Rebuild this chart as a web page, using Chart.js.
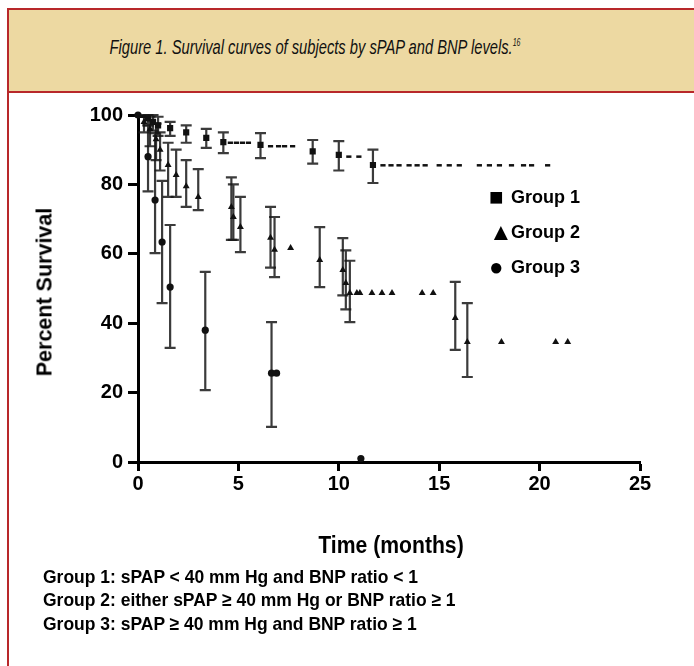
<!DOCTYPE html>
<html lang="en">
<head>
<meta charset="UTF-8" />
<title>Survival curves by sPAP and BNP levels</title>
<script src="https://cdn.jsdelivr.net/npm/chart.js"></script>
<style>
  body {
    margin: 0;
    width: 694px;
    height: 666px;
    overflow: hidden;
    position: relative;
    background: #fff;
    font-family: "Liberation Sans", Arial, sans-serif;
  }
  #frame {
    position: absolute;
    left: 7px;
    top: 8px;
    width: 720px;
    height: 700px;
    border-left: 2px solid #b8282a;
    border-top: 2px solid #b8282a;
  }
  #head {
    position: absolute;
    left: 9px;
    top: 10px;
    width: 720px;
    height: 81px;
    background: #edd9a2;
    border-bottom: 2px solid #b8282a;
  }
  #title {
    position: absolute;
    left: 315px;
    top: 47px;
    white-space: nowrap;
    font-style: italic;
    font-size: 21px;
    color: #111;
    transform: translate(-50%, -50%) scaleX(0.7);
  }
  #title sup { font-size: 10px; }
  canvas { position: absolute; left: 0; top: 0; }
  .lbl {
    position: absolute;
    font-weight: bold;
    color: #000;
    white-space: nowrap;
  }
  #ytitle {
    left: 45px;
    top: 292px;
    font-size: 21.5px;
    transform: translate(-50%, -50%) rotate(-90deg);
  }
  #xtitle {
    left: 391px;
    top: 545px;
    font-size: 23px;
    transform: translate(-50%, -50%) scaleX(0.92);
  }
  .leg { left: 489px; font-size: 18px; transform: translateY(-50%); }
  .leg span { display: inline-block; width: 22px; font-size: 24px; vertical-align: -2px; }
  .foot {
    left: 43px;
    font-size: 19px;
    transform-origin: left center;
    transform: translateY(-50%) scaleX(0.92);
  }
</style>
</head>
<body>
<div id="frame"></div>
<div id="head"></div>
<div id="title">Figure 1. Survival curves of subjects by sPAP and BNP levels.<sup>16</sup></div>
<canvas id="km" width="694" height="666"></canvas>
<div class="lbl" id="ytitle">Percent Survival</div>
<div class="lbl" id="xtitle">Time (months)</div>
<div class="lbl leg" style="top:197px"><span>■</span>Group 1</div>
<div class="lbl leg" style="top:232px"><span>▲</span>Group 2</div>
<div class="lbl leg" style="top:267px"><span>●</span>Group 3</div>
<div class="lbl foot" style="top:577px">Group 1: sPAP &lt; 40 mm Hg and BNP ratio &lt; 1</div>
<div class="lbl foot" style="top:600px">Group 2: either sPAP ≥ 40 mm Hg or BNP ratio ≥ 1</div>
<div class="lbl foot" style="top:624px">Group 3: sPAP ≥ 40 mm Hg and BNP ratio ≥ 1</div>

<script>
  // values (months, % survival, upper/lower CI; null = censored mark, no bar)
  const g1Time  = [0, 0.25, 0.5, 0.75, 1.0, 1.6, 2.4, 3.4, 4.25, 4.6, 4.9, 5.2, 5.5, 6.1, 6.6, 7.0, 7.3, 7.7, 8.7, 10.0, 10.5, 11.0, 11.7, 12.2, 12.6, 13.0, 13.5, 13.9, 14.3, 15.0, 15.5, 16.0, 17.0, 17.5, 18.0, 18.6, 19.2, 19.6, 20.4];
  const g1Surv  = [100, 100, 99, 98, 97, 96.2, 95, 93.4, 92.2, 92, 92, 92, 92, 91.4, 91, 91, 91, 91, 89.5, 88.5, 88, 88, 85.6, 85.5, 85.5, 85.5, 85.5, 85.5, 85.5, 85.5, 85.5, 85.5, 85.5, 85.5, 85.5, 85.5, 85.5, 85.5, 85.5];
  const g1Upper = [null, null, 100, 100, 99.5, 98, 97, 96, 95, null, null, null, null, 94.8, null, null, null, null, 92.8, 92.5, null, null, 90, null, null, null, null, null, null, null, null, null, null, null, null, null, null, null, null];
  const g1Lower = [null, null, 97, 95.5, 94, 94, 92, 90.5, 89, null, null, null, null, 87.6, null, null, null, null, 86, 84, null, null, 80.4, null, null, null, null, null, null, null, null, null, null, null, null, null, null, null, null];

  const g2Time  = [0, 0.3, 0.6, 0.9, 1.1, 1.5, 1.9, 2.4, 3.0, 4.65, 4.75, 5.1, 6.6, 6.8, 7.6, 9.05, 10.2, 10.35, 10.55, 10.9, 11.05, 11.65, 12.15, 12.65, 14.15, 14.7, 15.8, 16.4, 18.1, 20.8, 21.4];
  const g2Surv  = [100, 98, 96, 93, 90, 85.6, 82.7, 79.5, 76.4, 73.5, 70.6, 67.7, 64.6, 61.2, 61.7, 58.2, 55.3, 51.6, 48.7, 48.7, 48.7, 48.7, 48.7, 48.7, 48.7, 48.7, 41.5, 34.6, 34.6, 34.6, 34.6];
  const g2Upper = [null, 100, 99.5, 97.5, 95, 92, 90, 87, 84.4, 82, 80, 76.4, 73.5, 70.6, null, 67.7, 64.5, 61, 58, null, null, null, null, null, null, null, 51.9, 45.8, null, null, null];
  const g2Lower = [null, 95, 91, 87, 84, 76.4, 76.4, 73.5, 72.6, 64, 64, 60.5, 56, 53.3, null, 50.4, 48, 44, 40.3, null, null, null, null, null, null, null, 32.3, 24.5, null, null, null];

  const g3Time  = [0, 0.5, 0.85, 1.2, 1.6, 3.35, 6.65, 6.9, 11.1];
  const g3Surv  = [100, 88, 75.5, 63.4, 50.4, 38, 25.6, 25.6, 1];
  const g3Upper = [null, 97, 94.8, 81, 68.3, 54.8, 40.3, null, null];
  const g3Lower = [null, 78, 60.2, 45.8, 32.9, 20.7, 10.1, null, null];

  const xTicks = [0, 5, 10, 15, 20, 25];
  const yTicks = [0, 20, 40, 60, 80, 100];

  function pts(t, s, hi, lo) {
    return t.map((x, i) => ({ x: x, y: s[i], hi: hi[i], lo: lo[i] }));
  }

  const errorBars = {
    id: "errorBars",
    beforeDatasetsDraw(chart) {
      const ctx = chart.ctx;
      const xs = chart.scales.x, ys = chart.scales.y;
      ctx.save();
      ctx.strokeStyle = "rgba(25,25,25,0.85)";
      ctx.lineWidth = 2.2;
      chart.data.datasets.forEach((ds) => {
        ds.data.forEach((p) => {
          if (p.hi == null) return;
          const px = xs.getPixelForValue(p.x);
          const top = ys.getPixelForValue(p.hi);
          const bot = ys.getPixelForValue(p.lo);
          ctx.beginPath();
          ctx.moveTo(px, top); ctx.lineTo(px, bot);
          ctx.moveTo(px - 5.5, top); ctx.lineTo(px + 5.5, top);
          ctx.moveTo(px - 5.5, bot); ctx.lineTo(px + 5.5, bot);
          ctx.stroke();
        });
      });
      ctx.restore();
    },
  };

  // censored observations (no bar) in group 1 show as short dashes
  const g1Style = (c) => (c.raw && c.raw.hi == null && c.raw.y < 99 ? "line" : "rect");

  const tickFont = { family: "Liberation Sans", size: 20, weight: "bold" };

  new Chart(document.getElementById("km"), {
    type: "scatter",
    data: {
      datasets: [
        { label: "Group 1", data: pts(g1Time, g1Surv, g1Upper, g1Lower), pointStyle: g1Style, pointRadius: 2.6, borderWidth: 2.5 },
        { label: "Group 2", data: pts(g2Time, g2Surv, g2Upper, g2Lower), pointStyle: "triangle", pointRadius: 4 },
        { label: "Group 3", data: pts(g3Time, g3Surv, g3Upper, g3Lower), pointStyle: "circle", pointRadius: 3.6, clip: false },
      ],
    },
    options: {
      responsive: false,
      animation: false,
      layout: { padding: { left: 0, top: 115, right: 54, bottom: 0 } },
      elements: { point: { backgroundColor: "#111", borderColor: "#111", borderWidth: 0 } },
      scales: {
        x: {
          type: "linear",
          min: 0, max: 25,
          afterFit: (s) => { s.height = 204; },
          afterBuildTicks: (s) => { s.ticks = xTicks.map((v) => ({ value: v })); },
          ticks: { font: tickFont, color: "#000", padding: 1 },
          grid: { drawOnChartArea: false, tickLength: 9, tickWidth: 3, tickColor: "#000" },
          border: { color: "#000", width: 3 },
        },
        y: {
          min: 0, max: 100,
          afterFit: (s) => { s.width = 138; },
          afterBuildTicks: (s) => { s.ticks = yTicks.map((v) => ({ value: v })); },
          ticks: { font: tickFont, color: "#000", padding: 5 },
          grid: { drawOnChartArea: false, tickLength: 10, tickWidth: 3, tickColor: "#000" },
          border: { color: "#000", width: 3 },
        },
      },
      plugins: { legend: { display: false }, tooltip: { enabled: false } },
    },
    plugins: [errorBars],
  });
</script>
</body>
</html>
